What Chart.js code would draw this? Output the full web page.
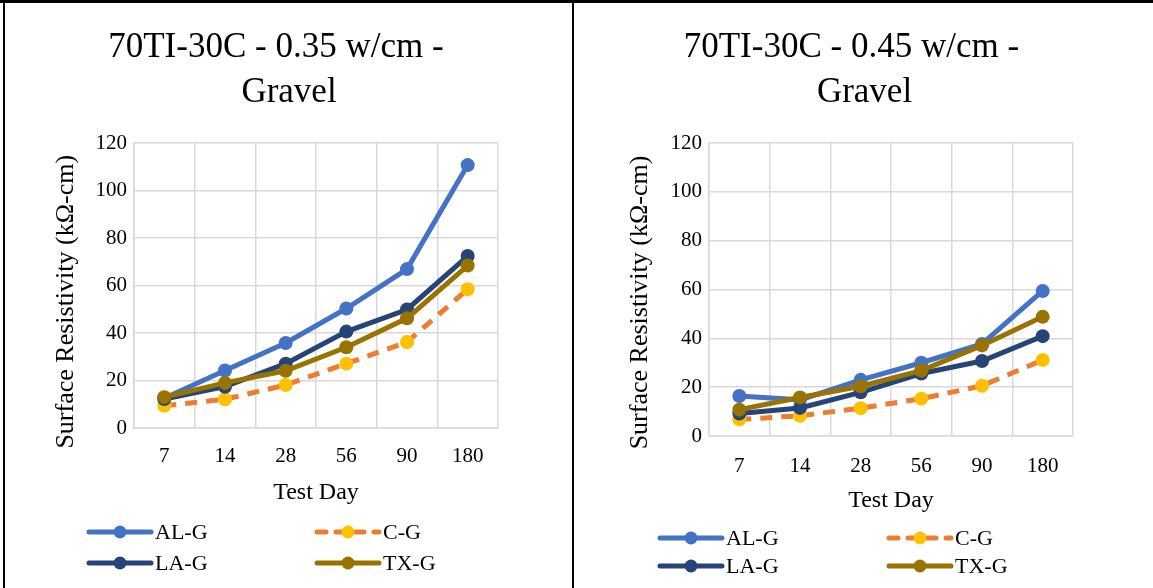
<!DOCTYPE html>
<html>
<head>
<meta charset="utf-8">
<script src="https://cdn.jsdelivr.net/npm/chart.js@4.4.1/dist/chart.umd.min.js"></script>
<style>
  html, body { margin: 0; padding: 0; background: #fff; }
  #page { position: relative; width: 1153px; height: 588px; overflow: hidden; }
  .rule { position: absolute; background: #000; }
  .panel { position: absolute; top: 4px; height: 584px; }
</style>
</head>
<body>
<div id="page">
  <div class="rule" style="left:0;top:0;width:1153px;height:3px"></div>
  <div class="rule" style="left:3px;top:0;width:2px;height:588px"></div>
  <div class="rule" style="left:572px;top:0;width:2px;height:588px"></div>
  <div class="panel" style="left:6px;width:566px"><canvas id="chart35" width="566" height="584"></canvas></div>
  <div class="panel" style="left:576px;width:577px"><canvas id="chart45" width="577" height="584"></canvas></div>
</div>
<script>
var testDays = ['7', '14', '28', '56', '90', '180'];
var seriesNames = ['AL-G', 'C-G', 'LA-G', 'TX-G'];
var yTicks = [0, 20, 40, 60, 80, 100, 120];

// 0.35 w/cm
var alG35 = [12.5, 24.2, 35.8, 50.3, 66.9, 110.7];
var cG35 = [9.4, 12.1, 18.1, 27.1, 36.2, 58.4];
var laG35 = [12.2, 17.4, 27.1, 40.6, 49.9, 72.4];
var txG35 = [13.0, 19.0, 24.1, 34.0, 46.2, 68.4];

// 0.45 w/cm
var alG45 = [16.4, 14.8, 23.0, 30.0, 37.7, 59.4];
var cG45 = [6.8, 8.3, 11.4, 15.3, 20.6, 31.1];
var laG45 = [9.2, 11.5, 17.9, 25.6, 30.7, 40.9];
var txG45 = [10.8, 15.8, 20.4, 26.8, 37.1, 48.8];

var serif = "'Liberation Serif', 'Times New Roman', serif";
var yTitleText = 'Surface Resistivity (kΩ-cm)';
var nb = '\u00a0';

// excel style legend: line segment with a marker in the middle, 2 x 2 grid
var gridLegend = {
    id: 'gridLegend',
    afterDraw: function (chart, args, opts) {
        var ctx = chart.ctx;
        var dsets = chart.data.datasets;
        ctx.save();
        ctx.font = '22px ' + serif;
        ctx.textBaseline = 'middle';
        ctx.textAlign = 'left';
        for (var i = 0; i < dsets.length; i++) {
            var ds = dsets[i];
            var col = i % 2, row = Math.floor(i / 2);
            var x0 = opts.cols[col], x1 = x0 + opts.lineLen, y = opts.rows[row];
            ctx.strokeStyle = ds.borderColor;
            ctx.lineWidth = 5;
            ctx.lineCap = 'round';
            ctx.setLineDash(ds.borderDash ? [9, 10] : []);
            ctx.beginPath();
            ctx.moveTo(x0, y);
            ctx.lineTo(x1, y);
            ctx.stroke();
            ctx.setLineDash([]);
            ctx.fillStyle = ds.pointBackgroundColor;
            ctx.beginPath();
            ctx.arc((x0 + x1) / 2, y, 6.5, 0, Math.PI * 2);
            ctx.fill();
            ctx.fillStyle = '#000';
            ctx.fillText(ds.label, x1 + 4, y + 1);
        }
        ctx.restore();
    }
};

function makeSet(label, data, line, marker, order, dashed) {
    return {
        label: label,
        data: data,
        borderColor: line,
        backgroundColor: marker,
        pointBackgroundColor: marker,
        pointBorderColor: marker,
        pointRadius: 7,
        pointBorderWidth: 0,
        borderWidth: 5,
        borderDash: dashed ? [12, 9] : undefined,
        tension: 0,
        order: order
    };
}

function makeChart(id, title, al, c, la, tx, pad, legendPos) {
    var ctx = document.getElementById(id).getContext('2d');
    return new Chart(ctx, {
        type: 'line',
        data: {
            labels: testDays,
            datasets: [
                makeSet(seriesNames[0], al, '#4472C4', '#4472C4', 3, false),
                makeSet(seriesNames[1], c, '#ED7D31', '#FFC000', 2, true),
                makeSet(seriesNames[2], la, '#264478', '#264478', 1, false),
                makeSet(seriesNames[3], tx, '#997300', '#997300', 0, false)
            ]
        },
        options: {
            responsive: false,
            animation: false,
            layout: { padding: { left: 0, right: 0, top: 0, bottom: pad.bottom } },
            plugins: {
                legend: { display: false },
                tooltip: { enabled: false },
                title: {
                    display: true,
                    text: title,
                    color: '#000',
                    font: { family: serif, size: 35, weight: 'normal', lineHeight: 1.286 },
                    padding: { top: 21, bottom: 28 }
                },
                gridLegend: legendPos
            },
            scales: {
                x: {
                    offset: true,
                    grid: { offset: true, color: '#d9d9d9', lineWidth: 1.5, drawTicks: false },
                    border: { color: '#d9d9d9', width: 1.5 },
                    ticks: { color: '#000', font: { family: serif, size: 21 }, padding: pad.xTick },
                    title: {
                        display: true,
                        text: 'Test Day',
                        color: '#000',
                        font: { family: serif, size: 24 },
                        padding: { top: 0, bottom: 11 }
                    },
                    afterFit: function (scale) { scale.height = pad.xHeight; }
                },
                y: {
                    min: 0,
                    max: 120,
                    afterBuildTicks: function (scale) {
                        scale.ticks = yTicks.map(function (v) { return { value: v }; });
                    },
                    grid: { color: '#d9d9d9', lineWidth: 1.5, drawTicks: false },
                    border: { color: '#d9d9d9', width: 1.5 },
                    ticks: { color: '#000', font: { family: serif, size: 21 }, padding: 7 },
                    title: {
                        display: true,
                        // trailing spaces push the rotated title down, like the excel original
                        text: yTitleText + nb.repeat(pad.yShift),
                        color: '#000',
                        font: { family: serif, size: 26 },
                        padding: { top: pad.yTitle, bottom: 0 }
                    },
                    afterFit: function (scale) { scale.width = pad.yWidth; }
                },
                // empty right-hand axis, only keeps space right of the plot
                // (layout padding would shift the title off centre)
                spacer: {
                    position: 'right',
                    display: true,
                    grid: { display: false },
                    border: { display: false },
                    ticks: { display: false },
                    afterFit: function (scale) { scale.width = pad.right; }
                }
            }
        },
        plugins: [gridLegend]
    });
}

document.addEventListener('DOMContentLoaded', function () {
    makeChart('chart35', ['70TI-30C - 0.35 w/cm -' + nb.repeat(3), 'Gravel'], alG35, cG35, laG35, txG35,
        { right: 74, bottom: 70, xTick: 16, xHeight: 90, yTitle: 45, yWidth: 128, yShift: 5 },
        { cols: [83, 311], rows: [528, 559], lineLen: 62 });
    makeChart('chart45', ['70TI-30C - 0.45 w/cm -' + nb.repeat(3), 'Gravel'], alG45, cG45, laG45, txG45,
        { right: 80, bottom: 62, xTick: 18, xHeight: 90, yTitle: 49, yWidth: 133, yShift: 4 },
        { cols: [84, 313], rows: [534, 562], lineLen: 62 });
});
</script>
</body>
</html>
